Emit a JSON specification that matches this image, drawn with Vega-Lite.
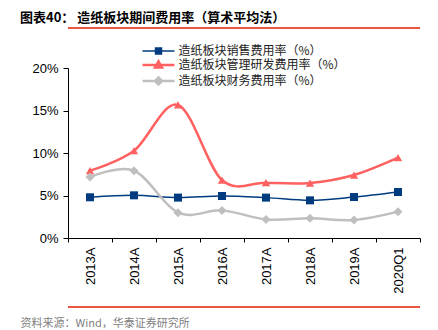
{
  "$schema": "https://vega.github.io/schema/vega-lite/v6.json",
  "autosize": {"type": "none"},
  "padding": {"left": 68, "top": 68, "right": 18, "bottom": 92},
  "width": 352,
  "height": 170,
  "background": "white",
  "config": {"view": {"stroke": null}},
  "title": {
    "text": "图表40：  造纸板块期间费用率（算术平均法）",
    "anchor": "start",
    "frame": "group",
    "dx": -48,
    "offset": 2,
    "font": "Noto Sans CJK SC",
    "fontSize": 13,
    "fontWeight": "bold",
    "color": "#000000"
  },
  "data": {
    "values": [
      {"year": "2013A", "series": "造纸板块销售费用率（%）", "value": 4.79},
      {"year": "2014A", "series": "造纸板块销售费用率（%）", "value": 5.02},
      {"year": "2015A", "series": "造纸板块销售费用率（%）", "value": 4.75},
      {"year": "2016A", "series": "造纸板块销售费用率（%）", "value": 4.94},
      {"year": "2017A", "series": "造纸板块销售费用率（%）", "value": 4.75},
      {"year": "2018A", "series": "造纸板块销售费用率（%）", "value": 4.43},
      {"year": "2019A", "series": "造纸板块销售费用率（%）", "value": 4.82},
      {"year": "2020Q1", "series": "造纸板块销售费用率（%）", "value": 5.41},
      {"year": "2013A", "series": "造纸板块管理研发费用率（%）", "value": 7.92},
      {"year": "2014A", "series": "造纸板块管理研发费用率（%）", "value": 10.27},
      {"year": "2015A", "series": "造纸板块管理研发费用率（%）", "value": 15.65},
      {"year": "2016A", "series": "造纸板块管理研发费用率（%）", "value": 6.82},
      {"year": "2017A", "series": "造纸板块管理研发费用率（%）", "value": 6.51},
      {"year": "2018A", "series": "造纸板块管理研发费用率（%）", "value": 6.47},
      {"year": "2019A", "series": "造纸板块管理研发费用率（%）", "value": 7.41},
      {"year": "2020Q1", "series": "造纸板块管理研发费用率（%）", "value": 9.45},
      {"year": "2013A", "series": "造纸板块财务费用率（%）", "value": 7.18},
      {"year": "2014A", "series": "造纸板块财务费用率（%）", "value": 7.92},
      {"year": "2015A", "series": "造纸板块财务费用率（%）", "value": 2.98},
      {"year": "2016A", "series": "造纸板块财务费用率（%）", "value": 3.25},
      {"year": "2017A", "series": "造纸板块财务费用率（%）", "value": 2.19},
      {"year": "2018A", "series": "造纸板块财务费用率（%）", "value": 2.31},
      {"year": "2019A", "series": "造纸板块财务费用率（%）", "value": 2.12},
      {"year": "2020Q1", "series": "造纸板块财务费用率（%）", "value": 3.10}
    ]
  },
  "layer": [
    {
      "encoding": {
        "x": {
          "field": "year",
          "type": "nominal",
          "sort": null,
          "scale": {"type": "band", "paddingInner": 0, "paddingOuter": 0},
          "axis": {
            "orient": "bottom",
            "title": "资料来源：Wind，华泰证券研究所",
            "titleFont": "Noto Sans CJK SC",
            "titleFontSize": 11,
            "titleFontWeight": "normal",
            "titleColor": "#808080",
            "titleAnchor": "start",
            "titleAlign": "left",
            "titleBaseline": "alphabetic",
            "titleX": -48,
            "titleY": 88,
            "labelAngle": -90,
            "tickBand": "extent",
            "tickSize": 4,
            "labelPadding": 5,
            "domainColor": "#000000",
            "tickColor": "#000000",
            "labelFont": "Liberation Sans",
            "labelFontSize": 13,
            "labelColor": "#000000"
          }
        },
        "y": {
          "field": "value",
          "type": "quantitative",
          "scale": {"domain": [0, 20], "nice": false, "zero": true},
          "axis": {
            "title": null,
            "values": [0, 5, 10, 15, 20],
            "labelExpr": "datum.value + '%'",
            "grid": false,
            "domainColor": "#000000",
            "tickColor": "#000000",
            "tickSize": 5,
            "labelPadding": 5,
            "labelFont": "Liberation Sans",
            "labelFontSize": 13,
            "labelColor": "#000000"
          }
        },
        "color": {
          "field": "series",
          "type": "nominal",
          "scale": {
            "domain": ["造纸板块销售费用率（%）", "造纸板块管理研发费用率（%）", "造纸板块财务费用率（%）"],
            "range": ["#003B80", "#FF6060", "#BFBFBF"]
          },
          "legend": {
            "title": null,
            "orient": "none",
            "legendX": 84.5,
            "legendY": -23,
            "padding": 0,
            "symbolSize": 169,
            "symbolType": "M-2.46,0H2.46M-0.46,-0.46H0.46V0.46H-0.46Z",
            "rowPadding": -1,
            "labelOffset": 14,
            "labelFont": "Noto Sans CJK SC",
            "labelFontSize": 12,
            "labelColor": "#222222",
            "labelLimit": 300,
            "encode": {
              "symbols": {
                "update": {
                  "shape": {"signal": "datum.value === '造纸板块销售费用率（%）' ? 'M-2.46,0H2.46M-0.46,-0.46H0.46V0.46H-0.46Z' : datum.value === '造纸板块管理研发费用率（%）' ? 'M-2.46,0H2.46M0,-0.58L0.54,0.4L-0.54,0.4Z' : 'M-2.46,0H2.46M0,-0.54L0.54,0L0,0.54L-0.54,0Z'"},
                  "size": {"value": 169},
                  "fill": {"scale": "color", "field": "value"},
                  "stroke": {"scale": "color", "field": "value"},
                  "strokeWidth": {"signal": "datum.value === '造纸板块销售费用率（%）' ? 1.5 : 2.5"},
                  "opacity": {"value": 1}
                }
              },
              "labels": {
                "update": {"letterSpacing": {"value": 0.8}}
              }
            }
          }
        }
      },
      "layer": [
        {
          "mark": {"type": "line", "interpolate": "cardinal"},
          "encoding": {
            "strokeWidth": {
              "condition": {"test": "datum.series === '造纸板块销售费用率（%）'", "value": 1.5},
              "value": 2.5
            }
          }
        },
        {
          "transform": [{"filter": "datum.series === '造纸板块销售费用率（%）'"}],
          "mark": {"type": "point", "filled": true, "opacity": 1, "size": 64, "shape": "square"}
        },
        {
          "transform": [{"filter": "datum.series === '造纸板块管理研发费用率（%）'"}],
          "mark": {"type": "point", "filled": true, "opacity": 1, "size": 70, "shape": "triangle-up"}
        },
        {
          "transform": [{"filter": "datum.series === '造纸板块财务费用率（%）'"}],
          "mark": {"type": "point", "filled": true, "opacity": 1, "size": 81, "shape": "diamond"}
        }
      ]
    },
    {
      "data": {"values": [{"line": "top"}, {"line": "bottom"}]},
      "mark": {"type": "rule", "strokeWidth": 2, "stroke": "#E8563F", "opacity": 1, "clip": false},
      "encoding": {
        "y": {"datum": 24.706},
        "stroke": {"value": "#E8563F"}
      }
    },
    {
      "data": {"values": [{"line": "bottom"}]},
      "mark": {"type": "rule", "strokeWidth": 2, "stroke": "#E8563F", "opacity": 1, "clip": false},
      "encoding": {
        "y": {"datum": -8.118},
        "stroke": {"value": "#E8563F"}
      }
    }
  ]
}
